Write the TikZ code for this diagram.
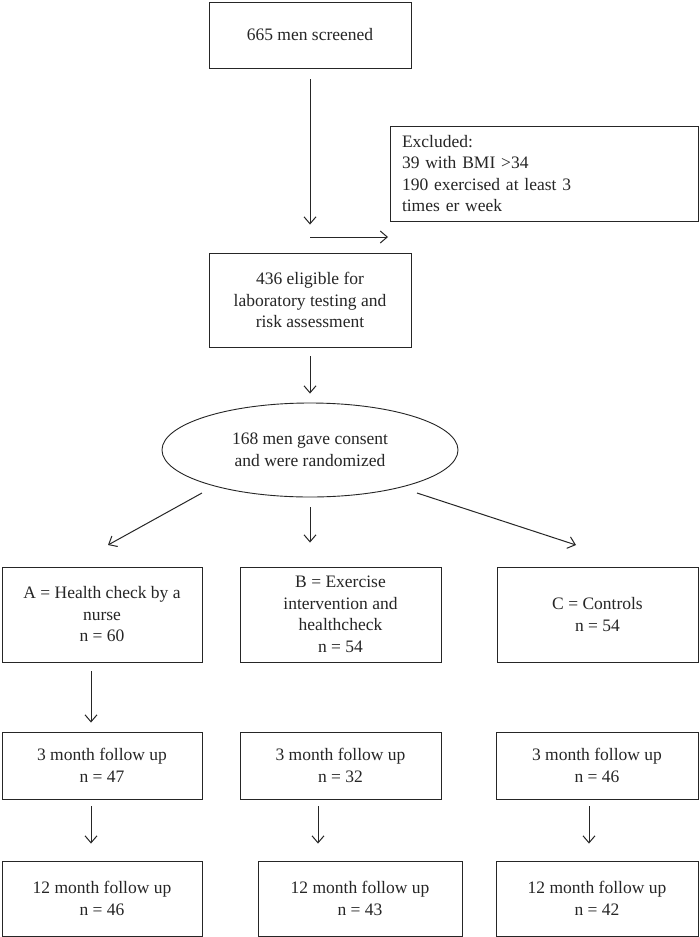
\documentclass[tikz,border=0pt]{standalone}
\usepackage{fontspec}
\setmainfont{Liberation Serif}
\usetikzlibrary{arrows.meta,shapes.geometric}
\definecolor{ink}{HTML}{262626}
\begin{document}
\begin{tikzpicture}[x=1pt,y=-1pt,
  every node/.style={font=\fontsize{17.5}{21.5}\selectfont, text=ink},
  box/.style={draw=ink, line width=0.9pt, rectangle, align=center, inner sep=2pt},
  oval/.style={draw=ink, line width=0.9pt, ellipse, align=center, inner sep=0pt},
  arr/.style={draw=ink, line width=1pt, -{Straight Barb[length=7pt,width=12pt,line width=1pt]}}]
\useasboundingbox (0,0) rectangle (700,937);
\fill[white] (0,0) rectangle (700,937);

\node[box, minimum width=202pt, minimum height=66pt] (s) at (310,35) {665 men screened};
\node[box, text width=284pt, inner xsep=12pt, align=left, minimum height=95pt] (x) at (544,173.5)
  {Excluded:\\39 with BMI >34\\190 exercised at least 3\\times er week};
\node[box, minimum width=202pt, minimum height=94pt] (e) at (310,300)
  {436 eligible for\\laboratory testing and\\risk assessment};
\node[oval, minimum width=296pt, minimum height=94pt] (r) at (310,450)
  {168 men gave consent\\and were randomized};

\node[box, minimum width=200pt, minimum height=95pt] (A) at (102,614.5)
  {A = Health check by a\\nurse\\n = 60};
\node[box, minimum width=201pt, minimum height=95pt] (B) at (340.5,614.5)
  {B = Exercise\\intervention and\\healthcheck\\n = 54};
\node[box, minimum width=201pt, minimum height=95pt] (C) at (597.5,614.5)
  {C = Controls\\n = 54};

\node[box, minimum width=200pt, minimum height=67pt] (A3) at (102,765.5)
  {3 month follow up\\n = 47};
\node[box, minimum width=201pt, minimum height=67pt] (B3) at (340.5,765.5)
  {3 month follow up\\n = 32};
\node[box, minimum width=202pt, minimum height=67pt] (C3) at (597,765.5)
  {3 month follow up\\n = 46};

\node[box, minimum width=200pt, minimum height=75pt] (A12) at (102,898.5)
  {12 month follow up\\n = 46};
\node[box, minimum width=204pt, minimum height=75pt] (B12) at (360,898.5)
  {12 month follow up\\n = 43};
\node[box, minimum width=202pt, minimum height=75pt] (C12) at (597,898.5)
  {12 month follow up\\n = 42};

\coordinate (xs) at (310,237);
\coordinate (xe) at (388,237);
\coordinate (rA) at (202,493);
\coordinate (Ain) at (108,545);
\coordinate (rC) at (417,493);
\coordinate (Cin) at (576,545);

\draw[arr, shorten <=11pt, shorten >=28pt] (s) -- (e);
\draw[arr] (xs) -- (xe);
\draw[arr, shorten <=9pt, shorten >=9pt] (e) -- (r);
\draw[arr] (rA) -- (Ain);
\draw[arr, shorten <=10pt, shorten >=24pt] (r.south) -- ([xshift=-30.5pt]B.north);
\draw[arr] (rC) -- (Cin);
\draw[arr, shorten <=9pt, shorten >=9pt] ([xshift=-11pt]A.south) -- ([xshift=-11pt]A3.north);
\draw[arr, shorten <=7pt, shorten >=17pt] ([xshift=-11pt]A3.south) -- ([xshift=-11pt]A12.north);
\draw[arr, shorten <=7pt, shorten >=17pt] ([xshift=-22.5pt]B3.south) -- ([xshift=-42pt]B12.north);
\draw[arr, shorten <=7pt, shorten >=17pt] ([xshift=-8pt]C3.south) -- ([xshift=-8pt]C12.north);
\end{tikzpicture}
\end{document}
